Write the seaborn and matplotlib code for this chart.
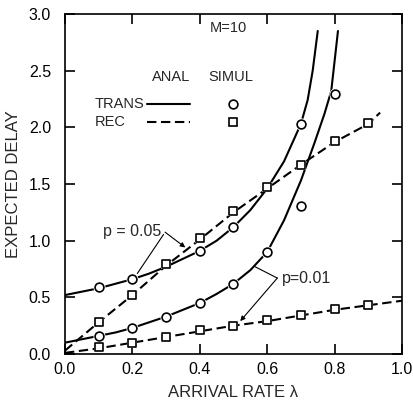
import matplotlib
matplotlib.use("Agg")
import matplotlib.pyplot as plt
import seaborn as sns
import pandas as pd

# ---------------- data ----------------
# analytic curves
trans05_x = [0.0, 0.05, 0.1, 0.15, 0.2, 0.25, 0.3, 0.35, 0.4, 0.45, 0.5, 0.55, 0.6, 0.65, 0.7, 0.72, 0.735, 0.75]
trans05_y = [0.52, 0.55, 0.58, 0.62, 0.66, 0.71, 0.77, 0.84, 0.91, 1.00, 1.12, 1.27, 1.46, 1.70, 2.03, 2.24, 2.50, 2.85]

trans01_x = [0.0, 0.05, 0.1, 0.15, 0.2, 0.25, 0.3, 0.35, 0.4, 0.45, 0.5, 0.55, 0.6, 0.65, 0.7, 0.74, 0.77, 0.79, 0.81]
trans01_y = [0.10, 0.13, 0.16, 0.19, 0.23, 0.28, 0.33, 0.39, 0.45, 0.53, 0.62, 0.74, 0.90, 1.18, 1.53, 1.86, 2.12, 2.32, 2.85]

rec05_x = [0.0, 0.1, 0.2, 0.3, 0.4, 0.5, 0.6, 0.7, 0.8, 0.9, 0.935]
rec05_y = [0.03, 0.28, 0.52, 0.78, 1.01, 1.25, 1.46, 1.67, 1.87, 2.03, 2.13]

rec01_x = [0.0, 0.1, 0.2, 0.3, 0.4, 0.5, 0.6, 0.7, 0.8, 0.9, 1.0]
rec01_y = [0.01, 0.05, 0.10, 0.15, 0.20, 0.25, 0.29, 0.34, 0.39, 0.43, 0.47]

# simulation points
sim_trans05_x = [0.1, 0.2, 0.4, 0.5, 0.7]
sim_trans05_y = [0.59, 0.66, 0.91, 1.12, 2.03]

sim_trans01_x = [0.1, 0.2, 0.3, 0.4, 0.5, 0.6, 0.7, 0.8]
sim_trans01_y = [0.16, 0.23, 0.33, 0.45, 0.62, 0.90, 1.31, 2.29]

sim_rec05_x = [0.1, 0.2, 0.3, 0.4, 0.5, 0.6, 0.7, 0.8, 0.9]
sim_rec05_y = [0.28, 0.52, 0.79, 1.02, 1.26, 1.47, 1.67, 1.88, 2.04]

sim_rec01_x = [0.1, 0.2, 0.3, 0.4, 0.5, 0.6, 0.7, 0.8, 0.9]
sim_rec01_y = [0.06, 0.10, 0.15, 0.21, 0.25, 0.30, 0.34, 0.40, 0.43]

x_ticks = [0.0, 0.2, 0.4, 0.6, 0.8, 1.0]
x_ticklabels = ["0.0", "0.2", "0.4", "0.6", "0.8", "1.0"]
y_ticks = [0.0, 0.5, 1.0, 1.5, 2.0, 2.5, 3.0]
y_ticklabels = ["0.0", "0.5", "1.0", "1.5", "2.0", "2.5", "3.0"]

# ---------------- style ----------------
sns.set_style("ticks")
plt.rcParams["font.family"] = ["Liberation Sans", "DejaVu Sans"]
plt.rcParams["axes.linewidth"] = 1.2

fig = plt.figure(figsize=(4.14, 4.01), dpi=100)
ax = fig.add_axes([65 / 414, 47 / 401, 337 / 414, 340 / 401])

LW = 1.5
DASH = (0, (4.5, 2.2))

sns.lineplot(x=trans05_x, y=trans05_y, ax=ax, color="black", lw=LW, sort=False)
sns.lineplot(x=trans01_x, y=trans01_y, ax=ax, color="black", lw=LW, sort=False)
sns.lineplot(x=rec05_x, y=rec05_y, ax=ax, color="black", lw=LW, linestyle=DASH, sort=False)
sns.lineplot(x=rec01_x, y=rec01_y, ax=ax, color="black", lw=LW, linestyle=DASH, sort=False)

def sim(xs, ys, marker, size):
    # white halo to break the line around each marker
    sns.scatterplot(x=xs, y=ys, ax=ax, marker=marker, s=size * 1.9, color="white",
                    edgecolor="white", linewidth=0, zorder=3)
    sns.scatterplot(x=xs, y=ys, ax=ax, marker=marker, s=size, facecolor="white",
                    edgecolor="black", linewidth=1.2, zorder=4)

sim(sim_trans05_x, sim_trans05_y, "o", 40)
sim(sim_trans01_x, sim_trans01_y, "o", 40)
sim(sim_rec05_x, sim_rec05_y, "s", 30)
sim(sim_rec01_x, sim_rec01_y, "s", 30)

ax.set_xlim(0, 1.0)
ax.set_ylim(0, 3.0)
ax.set_xticks(x_ticks)
ax.set_xticklabels(x_ticklabels)
ax.set_yticks(y_ticks)
ax.set_yticklabels(y_ticklabels)
ax.tick_params(axis="both", direction="in", length=7, width=1.2, labelsize=11.5,
               top=True, right=True, colors="black")
ax.tick_params(axis="x", pad=6)
ax.tick_params(axis="y", pad=10)
for s in ax.spines.values():
    s.set_visible(True)
    s.set_color("black")

ax.set_xlabel("ARRIVAL RATE λ", fontsize=12, labelpad=5.5)
ax.set_ylabel("EXPECTED DELAY", fontsize=12, labelpad=6)

# ---------------- legend (manual) ----------------
tA = ax.transAxes
ax.text(0.43, 0.959, "M=10", transform=tA, fontsize=10.5, ha="left", va="center")
ax.text(0.315, 0.815, "ANAL", transform=tA, fontsize=10.5, ha="center", va="center")
ax.text(0.493, 0.815, "SIMUL", transform=tA, fontsize=10.5, ha="center", va="center")
ax.text(0.089, 0.735, "TRANS", transform=tA, fontsize=10.5, ha="left", va="center")
ax.text(0.089, 0.682, "REC", transform=tA, fontsize=10.5, ha="left", va="center")
ax.plot([0.243, 0.371], [0.735, 0.735], transform=tA, color="black", lw=LW)
ax.plot([0.243, 0.371], [0.682, 0.682], transform=tA, color="black", lw=LW, linestyle=DASH)
ax.plot([0.499], [0.735], transform=tA, marker="o", ms=6.3, mfc="white", mec="black", mew=1.2)
ax.plot([0.499], [0.682], transform=tA, marker="s", ms=5.4, mfc="white", mec="black", mew=1.2)

# ---------------- annotations ----------------
ax.text(0.285, 1.08, "p = 0.05", fontsize=11.5, ha="right", va="center")
ax.annotate("", xy=(0.21, 0.69), xytext=(0.297, 1.075),
            arrowprops=dict(arrowstyle="-", lw=0.8, color="black"))
ax.annotate("", xy=(0.357, 0.94), xytext=(0.297, 1.075),
            arrowprops=dict(arrowstyle="-|>", lw=0.8, color="black",
                            mutation_scale=7, shrinkA=0, shrinkB=0))

ax.text(0.645, 0.67, "p=0.01", fontsize=11.5, ha="left", va="center")
ax.annotate("", xy=(0.564, 0.77), xytext=(0.63, 0.67),
            arrowprops=dict(arrowstyle="-", lw=0.8, color="black",
                            shrinkA=0, shrinkB=0))
ax.annotate("", xy=(0.52, 0.29), xytext=(0.63, 0.67),
            arrowprops=dict(arrowstyle="-|>", lw=0.8, color="black",
                            mutation_scale=7, shrinkA=0, shrinkB=0))

fig.savefig("out.png", dpi=100)
